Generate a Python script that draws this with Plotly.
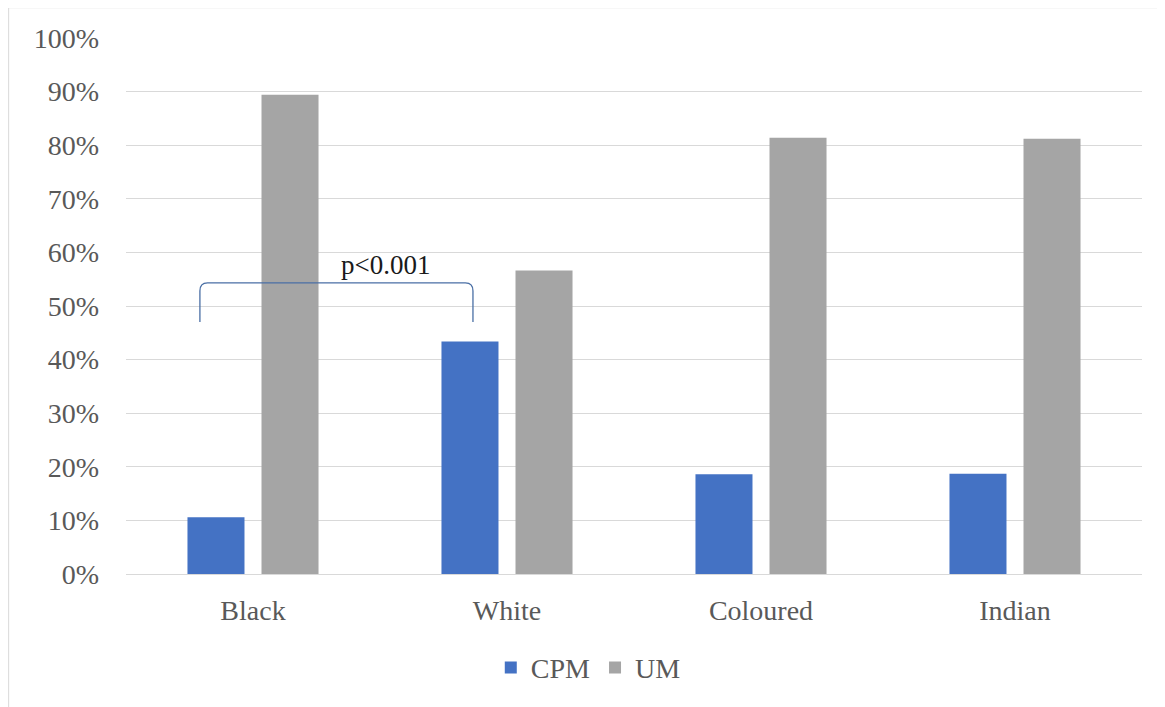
import plotly.graph_objects as go

categories = ["Black", "White", "Coloured", "Indian"]
cpm = [10.6, 43.4, 18.6, 18.7]
um = [89.4, 56.6, 81.4, 81.2]
y_ticks = [0, 10, 20, 30, 40, 50, 60, 70, 80, 90, 100]
y_tick_labels = [f"{v}%" for v in y_ticks]

FONT = "Liberation Serif, Times New Roman, serif"
TXT = "#595959"
FS = 28

fig = go.Figure()
fig.add_trace(go.Bar(name="CPM", x=categories, y=cpm, marker_color="#4472C4",
                     marker_line_width=0))
fig.add_trace(go.Bar(name="UM", x=categories, y=um, marker_color="#A5A5A5",
                     marker_line_width=0))

# significance bracket between Black and White
x0, x1, yb, yt, rx, ry = -0.209, 0.866, 47.0, 54.3, 0.03, 1.5
path = (f"M {x0},{yb} L {x0},{yt-ry} Q {x0},{yt} {x0+rx},{yt} "
        f"L {x1-rx},{yt} Q {x1},{yt} {x1},{yt-ry} L {x1},{yb}")
fig.add_shape(type="path", path=path, xref="x", yref="y",
              line=dict(color="#4a6fa5", width=1.3))
fig.add_annotation(x=0.52, y=57.6, xref="x", yref="y", text="p<0.001",
                   showarrow=False, font=dict(family=FONT, size=27, color="#1a1a1a"))

# outer chart border
fig.add_shape(type="rect", xref="paper", yref="paper", x0=-0.1155, x1=1.0177,
              y0=-0.3, y1=1.0565, line=dict(color="#d9d9d9", width=1), layer="below")

fig.update_layout(
    width=1157, height=699,
    margin=dict(l=118, r=23, t=30, b=133),
    paper_bgcolor="white", plot_bgcolor="white",
    barmode="group", bargap=0.417, bargroupgap=0.23,
    font=dict(family=FONT, size=FS, color=TXT),
    legend=dict(orientation="h", x=0.455, xanchor="center", y=-0.175, yanchor="middle",
                font=dict(family=FONT, size=FS, color=TXT), itemwidth=30,
                traceorder="normal"),
    showlegend=True,
)
fig.update_xaxes(showgrid=False, showline=False, ticks="", ticklabelstandoff=17,
                 tickfont=dict(family=FONT, size=FS, color=TXT), range=[-0.5, 3.5])
fig.update_yaxes(range=[0, 100], tickvals=y_ticks, ticktext=y_tick_labels,
                 showgrid=True, gridcolor="#d9d9d9", gridwidth=1,
                 zeroline=True, zerolinecolor="#d9d9d9", zerolinewidth=1,
                 showline=False, ticks="", ticklabelstandoff=26,
                 tickfont=dict(family=FONT, size=FS, color=TXT))

fig.write_html("out.html")
